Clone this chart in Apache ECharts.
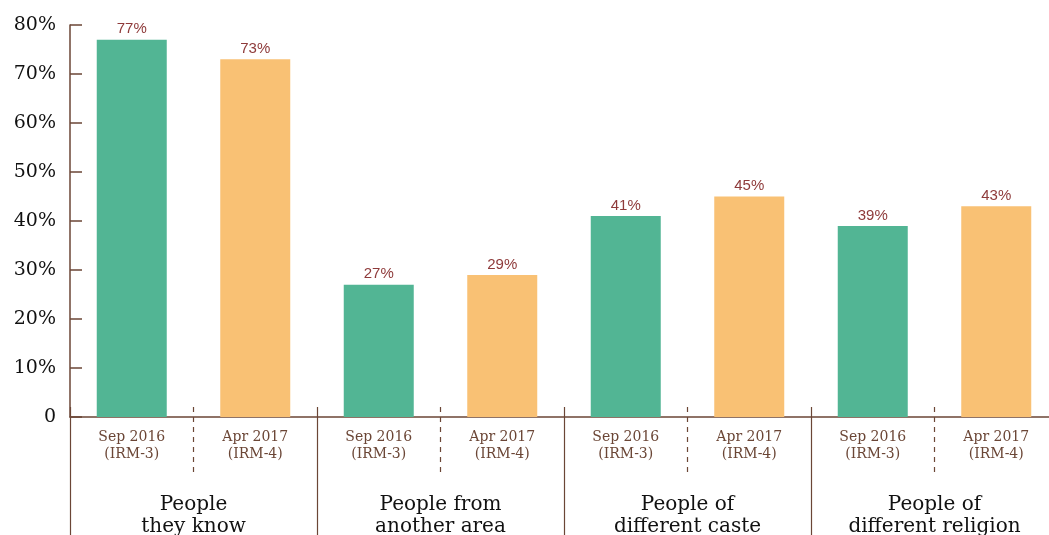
<!DOCTYPE html>
<html>
<head>
<meta charset="utf-8">
<script src="https://cdn.jsdelivr.net/npm/echarts@6/dist/echarts.min.js"></script>
<style>
  html, body { margin: 0; padding: 0; background: #fff; }
  #chart { width: 1049px; height: 535px; }
</style>
</head>
<body>
<div id="chart"></div>
<script>
// Survey waves, repeated within each group
const waves = ['Sep 2016\n(IRM-3)', 'Apr 2017\n(IRM-4)'];
const groups = ['People\nthey know', 'People from\nanother area', 'People of\ndifferent caste', 'People of\ndifferent religion'];
const sep2016 = [77, 27, 41, 39];
const apr2017 = [73, 29, 45, 43];
const yTicks = [0, 10, 20, 30, 40, 50, 60, 70, 80];

const GREEN = '#52b594';
const ORANGE = '#f9c174';
const BROWN = '#6b4636';
const LABEL_RED = '#8e3a3a';

const slots = [];
const values = [];
groups.forEach((g, i) => {
  slots.push(waves[0], waves[1]);
  values.push({ value: sep2016[i], itemStyle: { color: GREEN } });
  values.push({ value: apr2017[i], itemStyle: { color: ORANGE } });
});

const chart = echarts.init(document.getElementById('chart'));
chart.setOption({
  animation: false,
  grid: { left: 70, top: 25, bottom: 118, width: 988, outerBoundsMode: 'none', containLabel: false },
  xAxis: [
    {
      // baseline at zero
      type: 'category',
      data: slots,
      position: 'bottom',
      axisLine: { show: true, lineStyle: { color: BROWN, width: 1.5 } },
      axisTick: { show: false },
      axisLabel: { show: false }
    },
    {
      // wave labels and dashed separators inside each group
      type: 'category',
      data: slots,
      position: 'bottom',
      offset: -10,
      axisLine: { show: false },
      axisTick: {
        show: true,
        length: 70,
        interval: (i) => i % 2 === 1,
        lineStyle: { color: BROWN, type: [5, 5], width: 1.2 }
      },
      axisLabel: {
        interval: 0,
        margin: 22,
        fontFamily: 'DejaVu Serif',
        fontSize: 14,
        lineHeight: 17,
        color: BROWN
      }
    },
    {
      // group names and solid group dividers
      type: 'category',
      data: groups,
      position: 'bottom',
      offset: -10,
      axisLine: { show: false },
      axisTick: {
        show: true,
        length: 140,
        interval: 0,
        lineStyle: { color: BROWN, width: 1.2 }
      },
      axisLabel: {
        interval: 0,
        margin: 87,
        fontFamily: 'DejaVu Serif',
        fontSize: 20,
        lineHeight: 22,
        color: '#111'
      }
    }
  ],
  yAxis: {
    type: 'value',
    min: yTicks[0],
    max: yTicks[yTicks.length - 1],
    interval: 10,
    axisLine: { show: true, lineStyle: { color: BROWN, width: 1.5 } },
    axisTick: { show: true, inside: true, length: 12, lineStyle: { color: BROWN, width: 1.5 } },
    splitLine: { show: false },
    axisLabel: {
      margin: 14,
      fontFamily: 'DejaVu Serif',
      fontSize: 19,
      color: '#111',
      formatter: (v) => (v === 0 ? '0' : v + '%')
    }
  },
  series: [
    {
      type: 'bar',
      xAxisIndex: 0,
      data: values,
      barWidth: 70,
      label: {
        show: true,
        position: 'top',
        distance: 3,
        fontFamily: 'Liberation Sans',
        fontSize: 15,
        color: LABEL_RED,
        formatter: (p) => p.value + '%'
      }
    }
  ]
});
</script>
</body>
</html>
